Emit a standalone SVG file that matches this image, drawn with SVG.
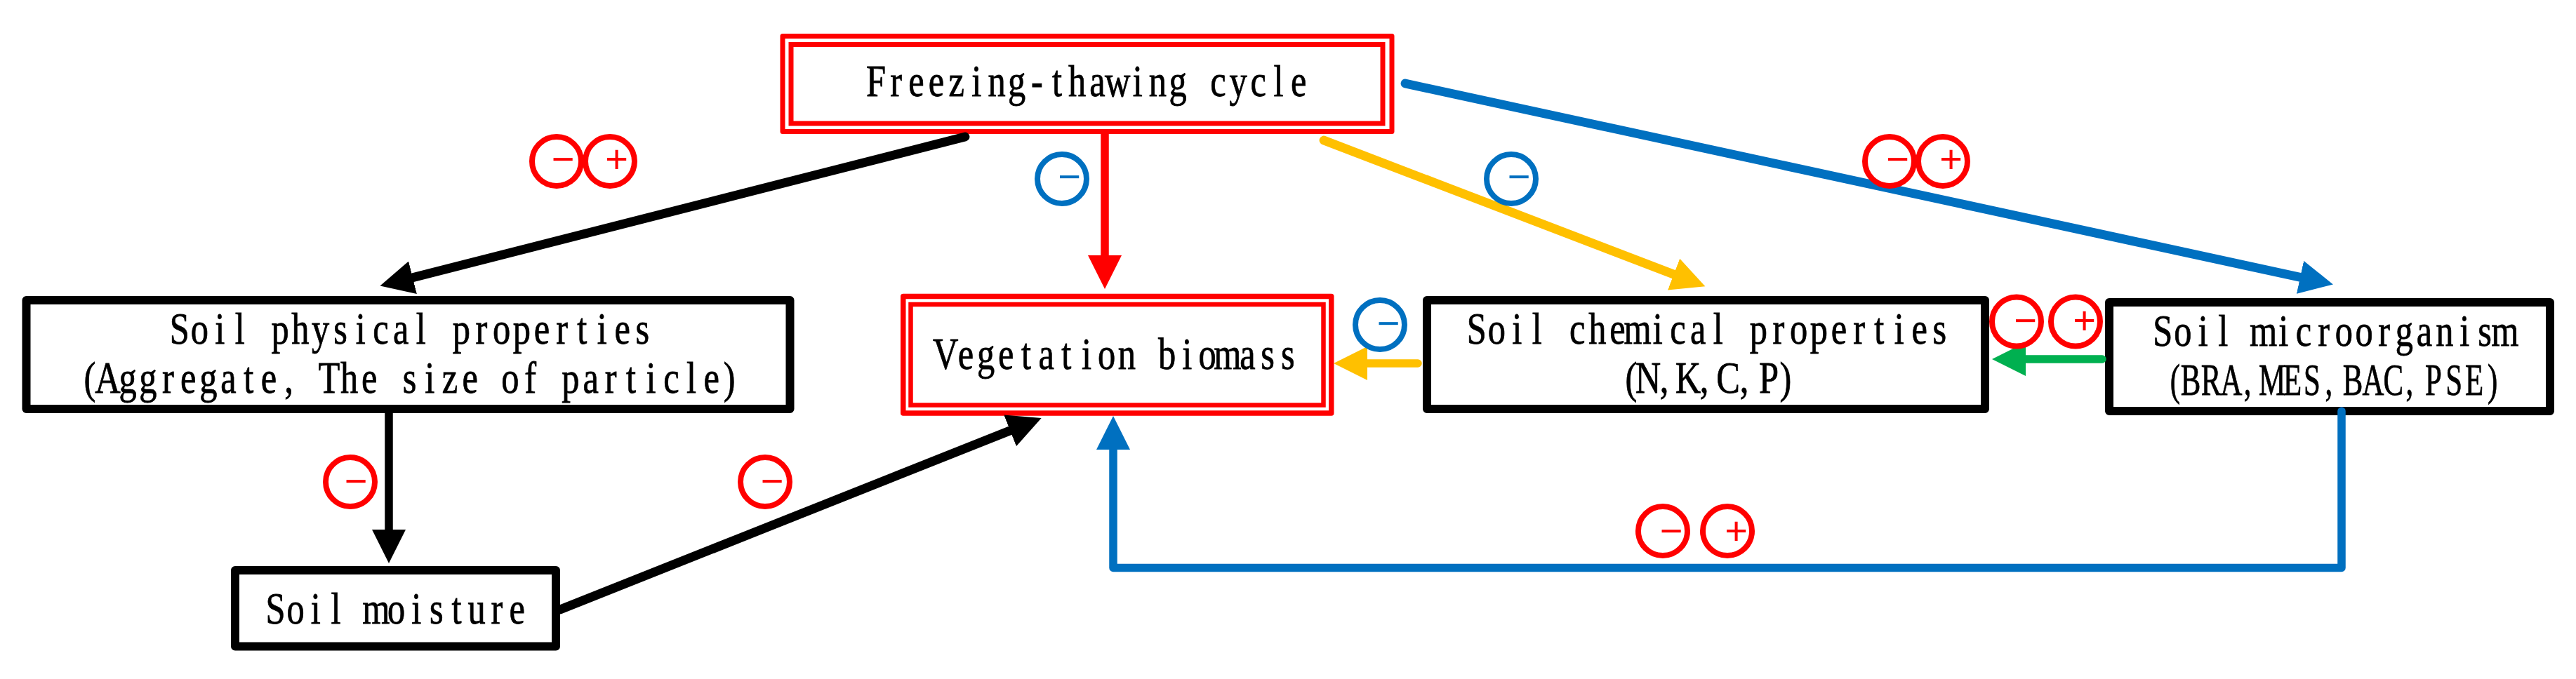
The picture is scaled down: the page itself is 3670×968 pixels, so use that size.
<svg xmlns="http://www.w3.org/2000/svg" width="3670" height="968" viewBox="0 0 3670 968">
<style>
.box{fill:#fff;stroke:#000;stroke-width:12;stroke-linejoin:round}
.dbl{fill:#fff;stroke:#f00;stroke-width:7;stroke-linejoin:round}
.dbi{fill:none;stroke:#f00;stroke-width:7;stroke-linejoin:miter}
.t{font-family:"Liberation Serif",serif;font-size:63px;fill:#000;stroke:#000;stroke-width:.8;text-anchor:middle}
.c{fill:none;stroke-width:11.5;stroke-linecap:round;stroke-linejoin:round}
.d{stroke-width:12.8}
.k{stroke:#000}.r{stroke:#f00}.b{stroke:#0070C0}.y{stroke:#FFC000}.g{stroke:#00B050}
.o{fill:none;stroke-width:8}
.s{font-family:"Liberation Sans",sans-serif;font-size:56px;text-anchor:middle}
.sr{fill:#f00}.sb{fill:#0070C0}
</style>
<defs>
<marker id="ak" markerUnits="userSpaceOnUse" markerWidth="50" markerHeight="48" refX="1" refY="24" orient="auto"><path d="M0 0L48 24L0 48z" fill="#000"/></marker>
<marker id="ar" markerUnits="userSpaceOnUse" markerWidth="50" markerHeight="48" refX="1" refY="24" orient="auto"><path d="M0 0L48 24L0 48z" fill="#f00"/></marker>
<marker id="ab" markerUnits="userSpaceOnUse" markerWidth="50" markerHeight="48" refX="1" refY="24" orient="auto"><path d="M0 0L48 24L0 48z" fill="#0070C0"/></marker>
<marker id="ay" markerUnits="userSpaceOnUse" markerWidth="50" markerHeight="48" refX="1" refY="24" orient="auto"><path d="M0 0L48 24L0 48z" fill="#FFC000"/></marker>
<marker id="ag" markerUnits="userSpaceOnUse" markerWidth="50" markerHeight="48" refX="1" refY="24" orient="auto"><path d="M0 0L48 24L0 48z" fill="#00B050"/></marker>
</defs>
<rect width="3670" height="968" fill="#fff"/>
<g id="node-freezing">
<rect class="dbl" x="1115" y="51.5" width="868" height="136"/>
<rect class="dbi" x="1127" y="63.5" width="843" height="112.5"/>
<text class="t" transform="translate(1248 137) scale(.8 1)" x="0 35.8 71.7 107.5 143.4 179.2 215 250.9 286.7 322.6 358.4 394.2 430.1 465.9 501.8 537.6 573.4 609.3 645.1 681 716.8 752.6">Freezing-thawing cycle</text>
</g>
<g id="node-physical">
<rect class="box" x="37.5" y="428" width="1088" height="155"/>
<text class="t" transform="translate(255.8 490) scale(.8 1)" x="0 35.8 71.7 107.5 143.4 179.2 215 250.9 286.7 322.6 358.4 394.2 430.1 465.9 501.8 537.6 573.4 609.3 645.1 681 716.8 752.6 788.5 824.3">Soil physical properties</text>
<text class="t" transform="translate(124.8 560) scale(.8 1)" x="4 35.8 71.7 107.5 143.4 179.2 215 250.9 286.7 322.6 358.4 394.2 430.1 465.9 501.8 537.6 573.4 609.3 645.1 681 716.8 752.6 788.5 824.3 860.2 896 931.8 967.7 1003.5 1039.4 1075.2 1111 1143">(Aggregate, The size of particle)</text>
</g>
<g id="node-moisture">
<rect class="box" x="335" y="813" width="457" height="108.5"/>
<text class="t" transform="translate(392.5 889) scale(.8 1)" x="0 35.8 71.7 107.5 143.4 179.2 215 250.9 286.7 322.6 358.4 394.2 430.1">Soil moisture</text>
</g>
<g id="node-vegetation">
<rect class="dbl" x="1286.75" y="422.4" width="610" height="166.6" style="stroke-width:7.5"/>
<rect class="dbi" x="1297.5" y="434" width="588" height="143.5" style="stroke-width:6.5"/>
<text class="t" transform="translate(1347.3 525.5) scale(.8 1)" x="0 35.8 71.7 107.5 143.4 179.2 215 250.9 286.7 322.6 358.4 394.2 430.1 465.9 501.8 537.6 573.4 609.3">Vegetation biomass</text>
</g>
<g id="node-chemical">
<rect class="box" x="2033" y="428" width="795" height="155"/>
<text class="t" transform="translate(2103.8 490) scale(.8 1)" x="0 35.8 71.7 107.5 143.4 179.2 215 250.9 286.7 322.6 358.4 394.2 430.1 465.9 501.8 537.6 573.4 609.3 645.1 681 716.8 752.6 788.5 824.3">Soil chemical properties</text>
<text class="t" transform="translate(2324 560) scale(.8 1)" x="0 30 58.75 101.25 130 172.5 201.25 245 275">(N,K,C,P)</text>
</g>
<g id="node-microorganism">
<rect class="box" x="3005" y="431" width="628" height="155"/>
<text class="t" transform="translate(3081.3 493) scale(.8 1)" x="0 35.8 71.7 107.5 143.4 179.2 215 250.9 286.7 322.6 358.4 394.2 430.1 465.9 501.8 537.6 573.4 609.3">Soil microorganism</text>
<text class="t" transform="translate(3099 562.6) scale(.68 1)" x="0 32.4 75 117.6 151.5 203 245.6 286.8 322 372 414.7 457 491 541 584 626.5 665">(BRA,MES,BAC,PSE)</text>
</g>
<g id="connectors">
<path class="c k d" d="M1375 195L587 396" marker-end="url(#ak)"/>
<path class="c r" d="M1574 191V365" marker-end="url(#ar)"/>
<path class="c y d" d="M1886 200L2385.5 391.5" marker-end="url(#ay)"/>
<path class="c b d" d="M2002 119L3278 395.5" marker-end="url(#ab)"/>
<path class="c k" d="M554 588V756" marker-end="url(#ak)"/>
<path class="c k d" d="M798 869L1440 613.5" marker-end="url(#ak)"/>
<path class="c y" d="M2020 518H1947" marker-end="url(#ay)"/>
<path class="c g" d="M2995 512H2885" marker-end="url(#ag)"/>
<path class="c b" d="M3336 586V809.5H1586V640" marker-end="url(#ab)"/>
</g>
<g id="badges">
<circle class="o r" cx="793" cy="230" r="35"/><text class="s sr" x="802" y="246">−</text>
<circle class="o r" cx="869" cy="230" r="35"/><text class="s sr" x="878.5" y="246">+</text>
<circle class="o b" cx="1513" cy="255" r="35"/><text class="s sb" x="1523.5" y="271">−</text>
<circle class="o b" cx="2153" cy="255" r="35"/><text class="s sb" x="2164" y="271">−</text>
<circle class="o r" cx="2692" cy="230" r="35"/><text class="s sr" x="2703.5" y="246">−</text>
<circle class="o r" cx="2768" cy="230" r="35"/><text class="s sr" x="2779.5" y="246">+</text>
<circle class="o r" cx="499" cy="687" r="35"/><text class="s sr" x="507" y="705">−</text>
<circle class="o r" cx="1090" cy="687" r="35"/><text class="s sr" x="1100" y="705">−</text>
<circle class="o b" cx="1966" cy="463" r="35"/><text class="s sb" x="1978" y="480">−</text>
<circle class="o r" cx="2873" cy="458.5" r="35"/><text class="s sr" x="2885.5" y="476">−</text>
<circle class="o r" cx="2957" cy="458.5" r="35"/><text class="s sr" x="2969.5" y="476">+</text>
<circle class="o r" cx="2369" cy="757" r="35"/><text class="s sr" x="2381" y="776">−</text>
<circle class="o r" cx="2461" cy="757" r="35"/><text class="s sr" x="2473.5" y="776">+</text>
</g>
</svg>
